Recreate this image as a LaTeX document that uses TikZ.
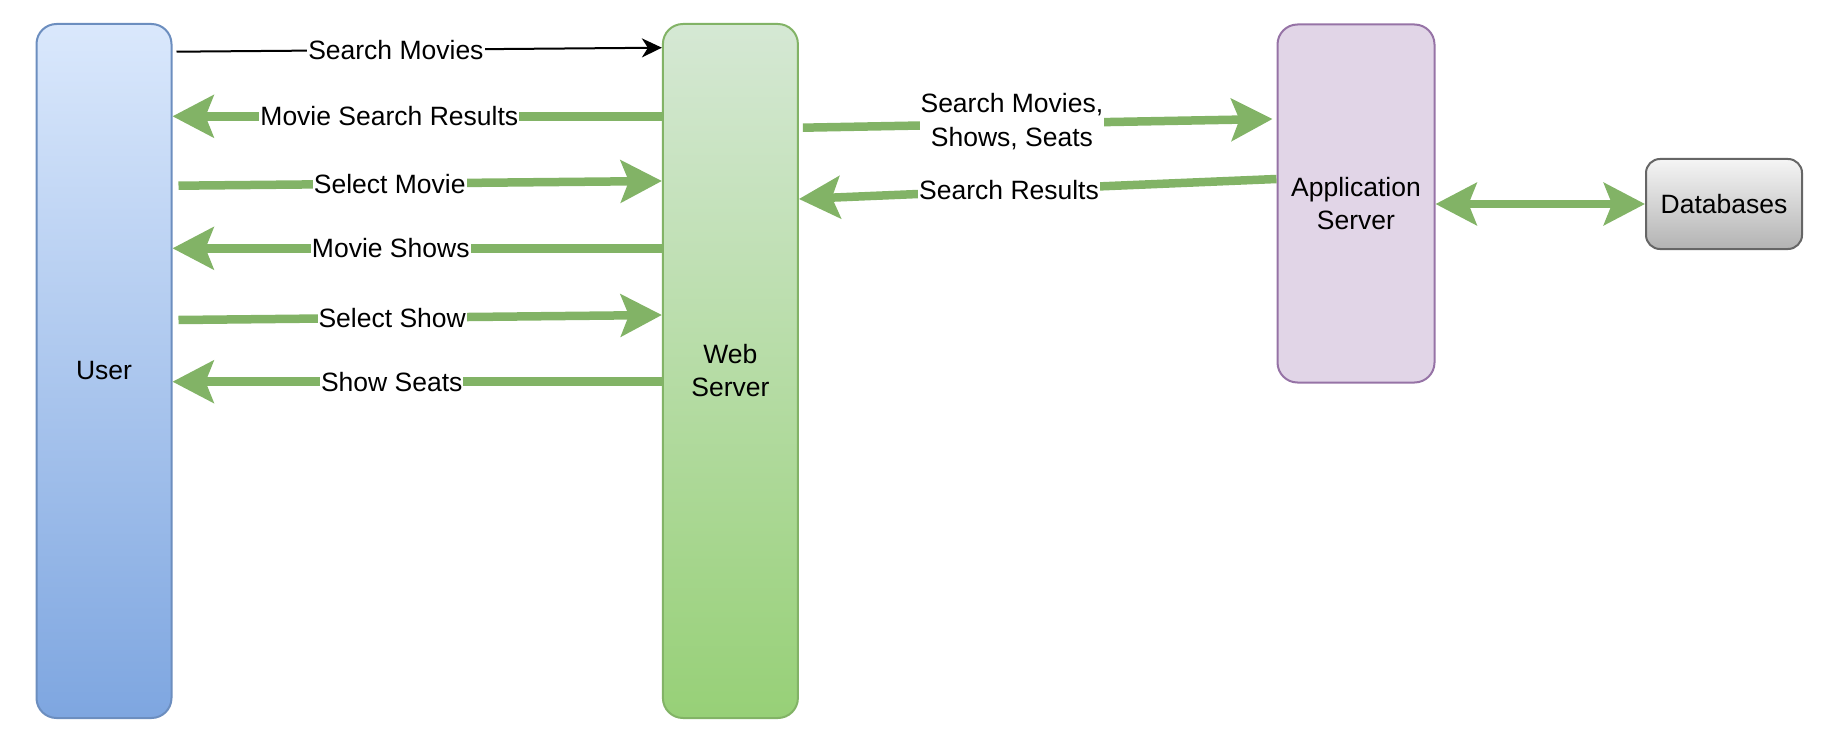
\documentclass[tikz,border=0pt]{standalone}
\usepackage{fontspec}
\setmainfont{Liberation Sans}
\usetikzlibrary{arrows.meta,calc}
\definecolor{gline}{HTML}{82B366}
\definecolor{ufill1}{HTML}{DAE8FC}
\definecolor{ufill2}{HTML}{7EA6E0}
\definecolor{ustroke}{HTML}{6C8EBF}
\definecolor{wfill1}{HTML}{D5E8D4}
\definecolor{wfill2}{HTML}{97D077}
\definecolor{afill}{HTML}{E1D5E7}
\definecolor{astroke}{HTML}{9673A6}
\definecolor{dfill1}{HTML}{F5F5F5}
\definecolor{dfill2}{HTML}{B3B3B3}
\definecolor{dstroke}{HTML}{666666}
\tikzset{
  box/.style={draw, line width=2pt, rounded corners=20pt, align=center, inner sep=0pt,
    font=\fontsize{26.5}{33}\selectfont},
  ghead/.tip={Stealth[length=41pt,width=42pt,inset=8pt]},
  garrow/.style={draw=gline, line width=8.5pt, -ghead},
  gdouble/.style={draw=gline, line width=8.5pt, ghead-ghead},
  barrow/.style={draw=black, line width=2pt, -{Stealth[length=20pt,width=19pt,inset=6pt]}},
  lbl/.style={fill=white, inner sep=1pt, align=center, text=black,
    font=\fontsize{26.5}{34}\selectfont}
}
\begin{document}
\begin{tikzpicture}[x=1pt,y=-1pt]
\useasboundingbox (0,0) rectangle (1822,730);
% nodes
\node[box, draw=ustroke, top color=ufill1, bottom color=ufill2,
  minimum width=135pt, minimum height=694pt] (user) at (104,371) {User};
\node[box, draw=gline, top color=wfill1, bottom color=wfill2,
  minimum width=135pt, minimum height=694pt] (web) at (730.4,371) {Web\\Server};
\node[box, draw=astroke, fill=afill,
  minimum width=157pt, minimum height=358pt] (app) at (1356,203.5) {Application\\Server};
\node[box, draw=dstroke, top color=dfill1, bottom color=dfill2, rounded corners=14pt,
  minimum width=156pt, minimum height=90pt] (db) at (1724,204) {Databases};
% left connectors
\draw[barrow] ([xshift=4pt]user.east |- 0,51.7) -- (web.west |- 0,47.7)
  node[lbl, pos=0.452] {Search Movies};
\draw[garrow] (web.west |- 0,116.3) -- (user.east |- 0,116.3)
  node[lbl, pos=0.557] {Movie Search Results};
\draw[garrow] ([xshift=6pt]user.east |- 0,185.7) -- (web.west |- 0,181)
  node[lbl, pos=0.437] {Select Movie};
\draw[garrow] (web.west |- 0,248.3) -- (user.east |- 0,248.3)
  node[lbl, pos=0.554] {Movie Shows};
\draw[garrow] ([xshift=6pt]user.east |- 0,320) -- (web.west |- 0,315)
  node[lbl, pos=0.442] {Select Show};
\draw[garrow] (web.west |- 0,381.7) -- (user.east |- 0,381.7)
  node[lbl, pos=0.552] {Show Seats};
% right connectors
\draw[garrow] ([xshift=4pt]web.east |- 0,127.7) -- ([xshift=-4pt]app.west |- 0,119)
  node[lbl, pos=0.445, yshift=2pt] {Search Movies,\\Shows, Seats};
\draw[garrow] (app.west |- 0,179) -- (web.east |- 0,199)
  node[lbl, pos=0.56] {Search Results};
\draw[gdouble] (app.east |- 0,204) -- (db.west |- 0,204);
\end{tikzpicture}
\end{document}
